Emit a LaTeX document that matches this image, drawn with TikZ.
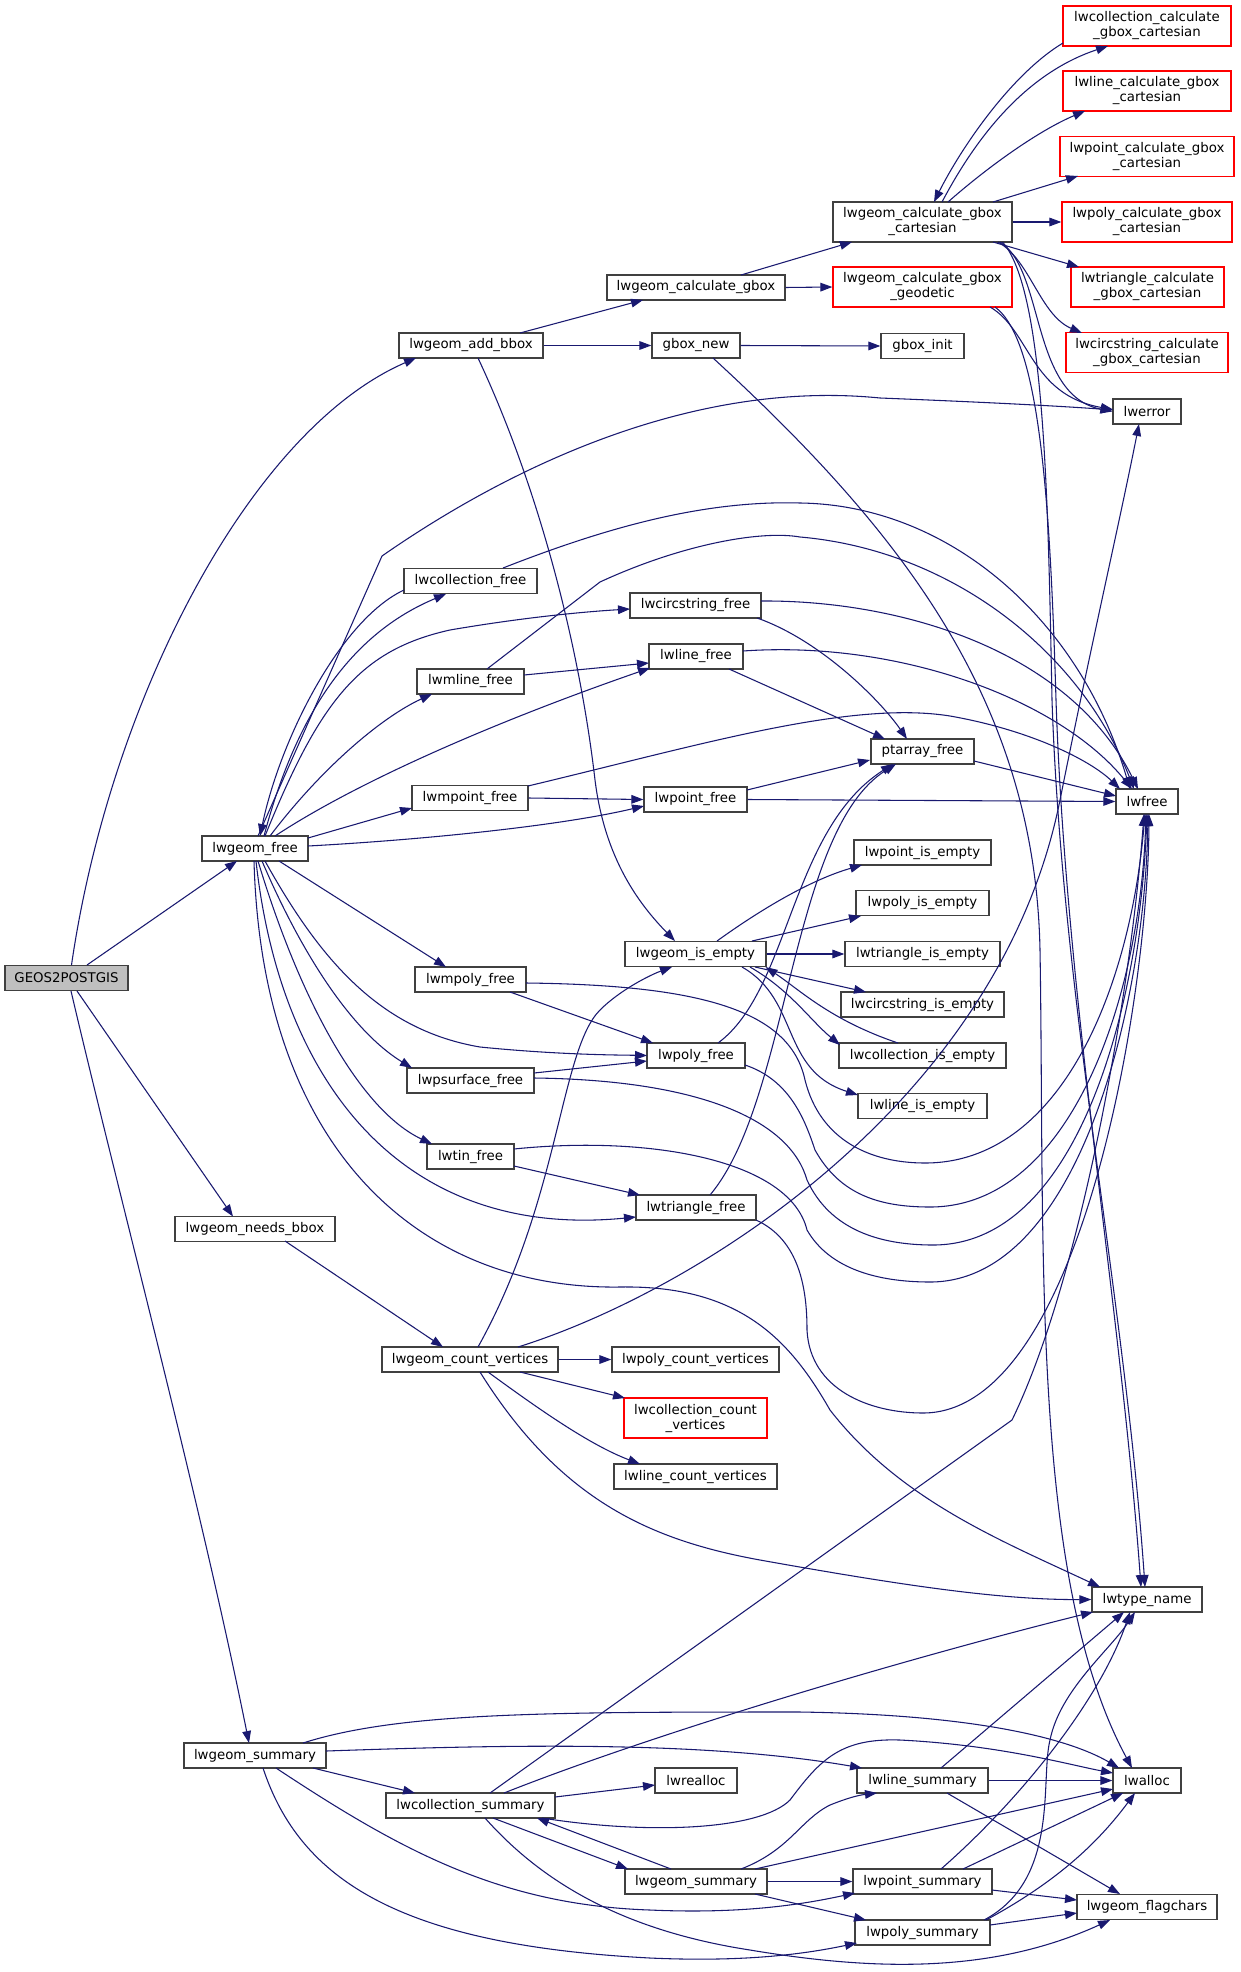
\documentclass[tikz,border=0pt]{standalone}
\usepackage{fontspec}
\setmainfont{DejaVu Sans}
\usetikzlibrary{arrows.meta,calc}
\definecolor{edgec}{HTML}{191970}
\definecolor{bord}{HTML}{404040}
\definecolor{rootfill}{HTML}{BFBFBF}
\tikzset{
  e/.style={draw=edgec, line width=0.8pt, -{Triangle[length=9pt,width=6.5pt]}},
  nd/.style={draw=bord, fill=white, line width=1pt, inner sep=0pt, minimum height=18.75pt,
     font=\fontsize{10pt}{11.25pt}\selectfont, align=center},
  nd2/.style={nd, minimum height=30pt},
  rd/.style={draw=red},
  bw/.style={minimum width=#1*0.75pt}
}
\begin{document}
\begin{tikzpicture}[x=0.75pt,y=-0.75pt]
\fill[white] (0,0) rectangle (1240,1972);
\useasboundingbox (0,0) rectangle (1240,1972);
% nodes
\node[nd,bw=123,fill=rootfill] (G) at (66.5,978) {GEOS2POSTGIS};
\node[nd,bw=144] (addbbox) at (471,345.5) {lwgeom\_add\_bbox};
\node[nd,bw=178] (calcgbox) at (696,287.5) {lwgeom\_calculate\_gbox};
\node[nd,bw=88] (gboxnew) at (696,345.5) {gbox\_new};
\node[nd2,bw=179] (cart) at (922.5,222) {lwgeom\_calculate\_gbox\\\_cartesian};
\node[nd2,bw=179,rd] (geod) at (922.5,287) {lwgeom\_calculate\_gbox\\\_geodetic};
\node[nd,bw=83] (gboxinit) at (922.5,346) {gbox\_init};
\node[nd2,bw=168,rd] (colcalc) at (1147,26) {lwcollection\_calculate\\\_gbox\_cartesian};
\node[nd2,bw=168,rd] (linecalc) at (1147,91) {lwline\_calculate\_gbox\\\_cartesian};
\node[nd2,bw=174,rd] (pointcalc) at (1147,156.5) {lwpoint\_calculate\_gbox\\\_cartesian};
\node[nd2,bw=170,rd] (polycalc) at (1147,222) {lwpoly\_calculate\_gbox\\\_cartesian};
\node[nd2,bw=153,rd] (tricalc) at (1147.5,287) {lwtriangle\_calculate\\\_gbox\_cartesian};
\node[nd2,bw=162,rd] (circcalc) at (1147,352.5) {lwcircstring\_calculate\\\_gbox\_cartesian};
\node[nd,bw=68] (lwerror) at (1147,411.5) {lwerror};
\node[nd,bw=133] (colfree) at (470.5,581) {lwcollection\_free};
\node[nd,bw=131] (circfree) at (695.5,605.5) {lwcircstring\_free};
\node[nd,bw=94] (linefree) at (696,656.5) {lwline\_free};
\node[nd,bw=107] (mlinefree) at (470.5,681.5) {lwmline\_free};
\node[nd,bw=103] (ptarrayfree) at (922.5,751.5) {ptarray\_free};
\node[nd,bw=116] (mpointfree) at (470,798) {lwmpoint\_free};
\node[nd,bw=103] (pointfree) at (695.5,799.5) {lwpoint\_free};
\node[nd,bw=62] (lwfree) at (1147,801.5) {lwfree};
\node[nd,bw=106] (geomfree) at (255,848.5) {lwgeom\_free};
\node[nd,bw=137] (ptempty) at (922.5,852.5) {lwpoint\_is\_empty};
\node[nd,bw=133] (polyempty) at (922.5,903) {lwpoly\_is\_empty};
\node[nd,bw=141] (geomempty) at (695.5,954) {lwgeom\_is\_empty};
\node[nd,bw=155] (triempty) at (922.5,954) {lwtriangle\_is\_empty};
\node[nd,bw=111] (mpolyfree) at (470.5,979.5) {lwmpoly\_free};
\node[nd,bw=163] (circempty) at (922.5,1004.5) {lwcircstring\_is\_empty};
\node[nd,bw=98] (polyfree) at (696,1055.5) {lwpoly\_free};
\node[nd,bw=167] (colempty) at (922.5,1055.5) {lwcollection\_is\_empty};
\node[nd,bw=127] (psurffree) at (470.5,1080.5) {lwpsurface\_free};
\node[nd,bw=129] (lineempty) at (922.5,1106) {lwline\_is\_empty};
\node[nd,bw=87] (tinfree) at (470.5,1156.5) {lwtin\_free};
\node[nd,bw=120] (trifree) at (696,1207.5) {lwtriangle\_free};
\node[nd,bw=160] (needsbbox) at (255,1229) {lwgeom\_needs\_bbox};
\node[nd,bw=176] (countv) at (470,1359.5) {lwgeom\_count\_vertices};
\node[nd,bw=167] (polycount) at (695.5,1359.5) {lwpoly\_count\_vertices};
\node[nd2,bw=143,rd] (colcount) at (695.5,1418) {lwcollection\_count\\\_vertices};
\node[nd,bw=163] (linecount) at (695.5,1476.5) {lwline\_count\_vertices};
\node[nd,bw=110] (typename) at (1147,1599.5) {lwtype\_name};
\node[nd,bw=142] (gsumL) at (255,1755.5) {lwgeom\_summary};
\node[nd,bw=82] (realloc) at (696,1780.5) {lwrealloc};
\node[nd,bw=131] (linesum) at (922.5,1780.5) {lwline\_summary};
\node[nd,bw=68] (lwalloc) at (1147,1780.5) {lwalloc};
\node[nd,bw=169] (colsum) at (470.5,1805.5) {lwcollection\_summary};
\node[nd,bw=142] (gsumM) at (696,1881.5) {lwgeom\_summary};
\node[nd,bw=139] (pointsum) at (922.5,1881.5) {lwpoint\_summary};
\node[nd,bw=140] (flagchars) at (1147,1907) {lwgeom\_flagchars};
\node[nd,bw=135] (polysum) at (922.5,1932.5) {lwpoly\_summary};

% edges from GEOS2POSTGIS
\draw[e] ($(G)+(5,-13)$) .. controls (110,700) and (250,430) .. ($(addbbox)+(-55,12.5)$);
\draw[e] ($(G)+(20.5,-13)$) -- ($(geomfree)+(-18,12.5)$);
\draw[e] ($(G)+(10.5,13)$) -- ($(needsbbox)+(-22,-12.5)$);
\draw[e] ($(G)+(4.5,13)$) .. controls (120,1200) and (200,1500) .. ($(gsumL)+(-6,-12.5)$);
% add_bbox
\draw[e] ($(addbbox)+(49,-12.5)$) -- ($(calcgbox)+(-53,12.5)$);
\draw[e] (addbbox.east) -- (gboxnew.west);
\draw[e] ($(addbbox)+(7,12.5)$) .. controls (540,490) and (580,650) .. (595,780) .. controls (605,860) and (640,905) .. ($(geomempty)+(-20.5,-13)$);
\draw[e] ($(calcgbox)+(45,-12.5)$) -- ($(cart)+(-70.5,20)$);
\draw[e] (calcgbox.east) -- (geod.west);
\draw[e] (gboxnew.east) -- (gboxinit.west);
\draw[e] ($(gboxnew)+(17,12.5)$) .. controls (900,530) and (1035,700) .. (1040,950) .. controls (1045,1250) and (1030,1580) .. ($(lwalloc)+(-15,-12.5)$);
% cartesian
\draw[e] ($(cart)+(19.5,-20)$) .. controls (980,130) and (1030,72) .. ($(colcalc)+(-39,20)$);
\draw[e] ($(colcalc)+(-84,17)$) .. controls (1010,75) and (960,150) .. ($(cart)+(11.5,-20)$);
\draw[e] ($(cart)+(25.5,-20)$) .. controls (990,165) and (1040,130) .. ($(linecalc)+(-62,20)$);
\draw[e] ($(cart)+(70.5,-20)$) -- ($(pointcalc)+(-69,19.5)$);
\draw[e] (cart.east) -- (polycalc.west);
\draw[e] ($(cart)+(70.5,20)$) -- ($(tricalc)+(-68.5,-20)$);
\draw[e] ($(cart)+(75.5,20)$) .. controls (1030,260) and (1040,315) .. ($(circcalc)+(-65,-19.5)$);
\draw[e] ($(cart)+(77.5,20)$) .. controls (1045,270) and (1030,395) .. (lwerror.west);
\draw[e] ($(cart)+(80,20)$) .. controls (1045,290) and (1048,500) .. (1052,700) .. controls (1062,1000) and (1125,1300) .. ($(typename)+(-2,-12.5)$);
% geodetic
\draw[e] ($(geod)+(67.5,20)$) .. controls (1030,330) and (1030,395) .. ($(lwerror)+(-34,-2)$);
\draw[e] ($(geod)+(72.5,20)$) .. controls (1040,340) and (1050,500) .. (1056,700) .. controls (1066,1000) and (1120,1300) .. ($(typename)+(-6,-12.5)$);
% lwgeom_free
\draw[e] ($(geomfree)+(3,-12.5)$) -- (382,556) .. controls (520,460) and (700,380) .. (880,398) .. controls (980,402) and (1060,406) .. ($(lwerror)+(-34,-1.5)$);
\draw[e] ($(colfree)+(-66.5,9)$) .. controls (340,620) and (280,740) .. ($(geomfree)+(5,-12.5)$);
\draw[e] ($(geomfree)+(9,-12.5)$) .. controls (300,700) and (360,630) .. ($(colfree)+(-24.5,13)$);
\draw[e] ($(geomfree)+(10,-12.5)$) .. controls (320,700) and (360,650) .. (450,630) .. controls (520,618) and (580,612) .. ($(circfree)+(-65.5,3.5)$);
\draw[e] ($(geomfree)+(15,-12.5)$) .. controls (320,770) and (380,718) .. ($(mlinefree)+(-38.5,12.5)$);
\draw[e] ($(geomfree)+(20,-12.5)$) .. controls (360,780) and (500,720) .. ($(linefree)+(-46,11.5)$);
\draw[e] ($(geomfree)+(53,-10.5)$) -- ($(mpointfree)+(-58,10)$);
\draw[e] ($(geomfree)+(53,-2.5)$) .. controls (420,840) and (560,826) .. ($(pointfree)+(-51.5,6.5)$);
\draw[e] ($(geomfree)+(24,12.5)$) -- ($(mpolyfree)+(-24.5,-12.5)$);
\draw[e] ($(geomfree)+(10,12.5)$) .. controls (320,960) and (380,1030) .. (480,1047) .. controls (560,1055) and (620,1055) .. ($(polyfree)+(-49,0)$);
\draw[e] ($(geomfree)+(7,12.5)$) .. controls (300,950) and (350,1030) .. ($(psurffree)+(-58.5,-12.5)$);
\draw[e] ($(geomfree)+(3,12.5)$) .. controls (300,1000) and (360,1110) .. ($(tinfree)+(-38.5,-12.5)$);
\draw[e] ($(geomfree)+(1,12.5)$) .. controls (280,1080) and (400,1240) .. ($(trifree)+(-60,9.5)$);
\draw[e] ($(geomfree)+(-1,12.5)$) .. controls (262,1150) and (420,1290) .. (620,1287) .. controls (740,1285) and (790,1340) .. (830,1410) .. controls (900,1500) and (1000,1540) .. ($(typename)+(-47,-12.5)$);
% free family
\draw[e] ($(colfree)+(32.5,-13)$) .. controls (600,530) and (700,500) .. (800,503) .. controls (950,505) and (1080,620) .. ($(lwfree)+(-17,-12.5)$);
\draw[e] ($(circfree)+(61.5,12.5)$) .. controls (820,640) and (880,700) .. ($(ptarrayfree)+(-15.5,-12.5)$);
\draw[e] ($(circfree)+(65.5,-4.5)$) .. controls (900,600) and (1070,650) .. ($(lwfree)+(-9,-12.5)$);
\draw[e] ($(mlinefree)+(53.5,-6.5)$) -- ($(linefree)+(-47,6.5)$);
\draw[e] ($(mlinefree)+(16.5,-12.5)$) -- (600,582) .. controls (680,545) and (760,530) .. (800,537) .. controls (950,550) and (1080,650) .. ($(lwfree)+(-13,-12.5)$);
\draw[e] ($(linefree)+(33,12.5)$) -- ($(ptarrayfree)+(-37.5,-12.5)$);
\draw[e] ($(linefree)+(47,-5.5)$) .. controls (900,640) and (1060,700) .. ($(lwfree)+(-15,-12.5)$);
\draw[e] (mpointfree.east) -- (pointfree.west);
\draw[e] ($(mpointfree)+(58,-12)$) .. controls (700,745) and (850,700) .. (950,716) .. controls (1030,730) and (1090,760) .. ($(lwfree)+(-27,-12.5)$);
\draw[e] ($(pointfree)+(51.5,-9.5)$) -- ($(ptarrayfree)+(-52.5,8.5)$);
\draw[e] (pointfree.east) -- (lwfree.west);
\draw[e] ($(ptarrayfree)+(51.5,9.5)$) -- ($(lwfree)+(-31,-5.5)$);
\draw[e] ($(mpolyfree)+(39.5,12.5)$) -- ($(polyfree)+(-43,-12.5)$);
\draw[e] ($(mpolyfree)+(55.5,3.5)$) .. controls (700,985) and (790,1010) .. (805,1080) .. controls (820,1140) and (870,1163) .. (925,1163) .. controls (1060,1163) and (1130,990) .. ($(lwfree)+(-2,12.5)$);
\draw[e] ($(polyfree)+(22,-12.5)$) .. controls (790,990) and (790,830) .. ($(ptarrayfree)+(-29.5,12.5)$);
\draw[e] ($(polyfree)+(49,9.5)$) .. controls (790,1080) and (805,1120) .. (815,1150) .. controls (840,1195) and (880,1207) .. (930,1207) .. controls (1070,1207) and (1140,1000) .. ($(lwfree)+(-1,12.5)$);
\draw[e] ($(psurffree)+(63.5,-7.5)$) -- ($(polyfree)+(-49,5.5)$);
\draw[e] ($(psurffree)+(63.5,-2.5)$) .. controls (700,1080) and (790,1120) .. (807,1180) .. controls (830,1230) and (880,1245) .. (933,1245) .. controls (1080,1245) and (1140,1000) .. ($(lwfree)+(0,12.5)$);
\draw[e] ($(tinfree)+(43.5,9.5)$) -- ($(trifree)+(-56,-12.5)$);
\draw[e] ($(tinfree)+(43.5,-7.5)$) .. controls (650,1135) and (790,1160) .. (807,1230) .. controls (830,1270) and (880,1282) .. (930,1282) .. controls (1080,1282) and (1145,1000) .. ($(lwfree)+(1,12.5)$);
\draw[e] ($(trifree)+(14,-12.5)$) .. controls (790,1100) and (790,830) .. ($(ptarrayfree)+(-26.5,12.5)$);
\draw[e] ($(trifree)+(60,12.5)$) .. controls (800,1240) and (807,1290) .. (807,1330) .. controls (810,1390) and (870,1413) .. (923,1413) .. controls (1080,1413) and (1148,1000) .. ($(lwfree)+(2,12.5)$);
% is_empty family
\draw[e] ($(geomempty)+(21.5,-13)$) .. controls (760,910) and (810,880) .. ($(ptempty)+(-60.5,12.5)$);
\draw[e] ($(geomempty)+(56.5,-13)$) -- ($(polyempty)+(-61.5,13)$);
\draw[e] (geomempty.east) -- (triempty.west);
\draw[e] ($(geomempty)+(59.5,13)$) -- ($(circempty)+(-56.5,-12.5)$);
\draw[e] ($(colempty)+(-24.5,-12.5)$) .. controls (830,1020) and (800,990) .. ($(geomempty)+(70,13)$);
\draw[e] ($(geomempty)+(54.5,13)$) .. controls (790,990) and (810,1020) .. ($(colempty)+(-82.5,-10.5)$);
\draw[e] ($(geomempty)+(46.5,13)$) .. controls (800,1000) and (780,1070) .. ($(lineempty)+(-64.5,-11)$);
% count vertices
\draw[e] ($(needsbbox)+(30,12)$) -- ($(countv)+(-27,-12.5)$);
\draw[e] ($(countv)+(8,-12.5)$) .. controls (560,1200) and (560,1050) .. (600,1010) .. controls (620,990) and (650,975) .. ($(geomempty)+(-23.5,13)$);
\draw[e] (countv.east) -- (polycount.west);
\draw[e] ($(countv)+(50,12.5)$) -- ($(colcount)+(-70.5,-20)$);
\draw[e] ($(countv)+(18,12.5)$) .. controls (540,1410) and (590,1445) .. ($(linecount)+(-55.5,-12.5)$);
\draw[e] ($(countv)+(10,12.5)$) .. controls (560,1500) and (650,1540) .. (760,1560) .. controls (900,1585) and (1000,1600) .. (typename.west);
\draw[e] ($(countv)+(48,-12.5)$) .. controls (700,1290) and (1000,1100) .. (1060,800) .. controls (1090,650) and (1120,520) .. ($(lwerror)+(-8,12.5)$);
% summaries
\draw[e] ($(gsumL)+(58,12.5)$) -- ($(colsum)+(-55.5,-12.5)$);
\draw[e] ($(gsumL)+(48,-12.5)$) .. controls (400,1712) and (550,1712) .. (800,1712) .. controls (1000,1715) and (1080,1745) .. ($(lwalloc)+(-28,-12.5)$);
\draw[e] ($(gsumL)+(71,-4.5)$) .. controls (500,1745) and (700,1740) .. ($(linesum)+(-60.5,-12.5)$);
\draw[e] ($(gsumL)+(21,12.5)$) .. controls (400,1850) and (500,1905) .. (650,1910) .. controls (740,1914) and (800,1905) .. ($(pointsum)+(-67.5,11.5)$);
\draw[e] ($(gsumL)+(8,12.5)$) .. controls (300,1880) and (400,1945) .. (650,1958) .. controls (740,1962) and (800,1955) .. ($(polysum)+(-65.5,10.5)$);
\draw[e] ($(colsum)+(84.5,-8.5)$) -- ($(realloc)+(-41,4.5)$);
\draw[e] ($(colsum)+(33.5,-12.5)$) .. controls (650,1735) and (900,1660) .. ($(typename)+(-54,12.5)$);
\draw[e] ($(colsum)+(19.5,-12.5)$) -- (1012,1420) .. controls (1080,1280) and (1130,1000) .. ($(lwfree)+(-3,12.5)$);
\draw[e] ($(colsum)+(22.5,12.5)$) -- ($(gsumM)+(-68,-12.5)$);
\draw[e] ($(gsumM)+(-25,-12.5)$) -- ($(colsum)+(66.5,12.5)$);
\draw[e] ($(colsum)+(71.5,12.5)$) .. controls (650,1835) and (760,1830) .. (790,1800) .. controls (820,1760) and (840,1738) .. (900,1740) .. controls (1000,1745) and (1070,1765) .. ($(lwalloc)+(-34,-7.5)$);
\draw[e] ($(colsum)+(14.5,12.5)$) .. controls (540,1880) and (620,1930) .. (750,1950) .. controls (870,1970) and (990,1975) .. ($(flagchars)+(-37,13)$);
\draw[e] (gsumM.east) -- (pointsum.west);
\draw[e] ($(gsumM)+(59,12.5)$) -- ($(polysum)+(-56.5,-12.5)$);
\draw[e] ($(gsumM)+(45,-12.5)$) .. controls (790,1850) and (800,1820) .. (830,1805) .. controls (850,1797) and (860,1795) .. ($(linesum)+(-45.5,12.5)$);
\draw[e] ($(gsumM)+(59,-12.5)$) -- ($(lwalloc)+(-34,8.5)$);
\draw[e] (linesum.east) -- (lwalloc.west);
\draw[e] ($(linesum)+(18.5,-12.5)$) -- ($(typename)+(-23,12.5)$);
\draw[e] ($(linesum)+(24.5,12.5)$) -- ($(flagchars)+(-27,-13)$);
\draw[e] ($(pointsum)+(40.5,-12.5)$) -- ($(lwalloc)+(-24,12.5)$);
\draw[e] ($(pointsum)+(18.5,-12.5)$) .. controls (1020,1800) and (1100,1700) .. ($(typename)+(-17,12.5)$);
\draw[e] ($(pointsum)+(69.5,8.5)$) -- ($(flagchars)+(-70,-7)$);
\draw[e] ($(polysum)+(67.5,-7.5)$) -- ($(flagchars)+(-70,6)$);
\draw[e] ($(polysum)+(63.5,-12.5)$) .. controls (1060,1880) and (1100,1840) .. ($(lwalloc)+(-12,12.5)$);
\draw[e] ($(polysum)+(61.5,-12.5)$) .. controls (1060,1880) and (1040,1780) .. (1050,1740) .. controls (1060,1690) and (1110,1650) .. ($(typename)+(-12,12.5)$);
\end{tikzpicture}
\end{document}
